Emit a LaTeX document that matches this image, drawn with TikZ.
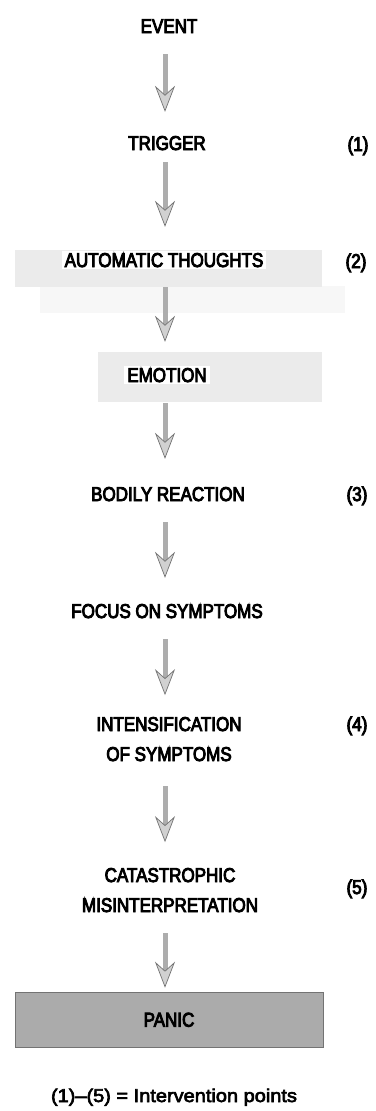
\documentclass[tikz,border=0pt]{standalone}
\usepackage{fontspec}
\setmainfont[FakeStretch=0.85,FakeBold=4.5]{Liberation Sans}
\newfontfamily\footfont[FakeStretch=1.08,FakeBold=3.5]{Liberation Sans}
\usetikzlibrary{arrows.meta,calc}
\begin{document}
\begin{tikzpicture}[x=1pt,y=-1pt,
  lbl/.style={font=\fontsize{20pt}{30pt}\selectfont, inner sep=0pt, text height=14.3pt, text depth=0pt, anchor=base},
  lbltwo/.style={font=\fontsize{20pt}{30pt}\selectfont, inner sep=0pt, align=center, anchor=base},
  halo/.style={fill=white, inner xsep=3pt, inner ysep=2pt},
  num/.style={font=\fontsize{20pt}{30pt}\selectfont, inner sep=0pt, anchor=base},
  band/.style={fill=black!8, draw=none},
  faint/.style={fill=black!3, draw=none},
  panicbox/.style={font=\fontsize{20pt}{30pt}\selectfont, fill=black!33, draw=black!55, line width=0.6pt,
     minimum width=308pt, minimum height=55pt, inner sep=0pt, text height=14.3pt, text depth=0pt},
  flow/.style={line width=5pt, draw=black!32,
     -{Stealth[length=26pt,width=20pt,inset=9pt,line width=0.7pt,color=black!55,fill=black!18]}}
]
\useasboundingbox (0,0) rectangle (375,1111);
\fill[white] (0,0) rectangle (375,1111);
\coordinate (ax) at (165,0);

% stippled bands
\fill[faint] (40,286) rectangle (345,313);
\fill[band] (15,250) rectangle (322,287);
\fill[band] (98,352) rectangle (322,402);

% nodes
\node[lbl] (ev) at (169,33) {EVENT};
\node[lbl] (tr) at (167,150) {TRIGGER};
\node[lbl,halo] (au) at (164,267) {AUTOMATIC THOUGHTS};
\node[lbl,halo] (em) at (167,382) {EMOTION};
\node[lbl] (bo) at (168,501) {BODILY REACTION};
\node[lbl] (fo) at (167,618) {FOCUS ON SYMPTOMS};
\node[lbltwo] (in) at (169,761) {INTENSIFICATION\\OF SYMPTOMS};
\node[lbltwo] (ca) at (170,912) {CATASTROPHIC\\MISINTERPRETATION};
\node[panicbox] (pa) at (169,1019.5) {PANIC};

\node[num] (n1) at (358,151) {(1)};
\node[num] (n2) at (356,268) {(2)};
\node[num] (n3) at (357,501) {(3)};
\node[num] (n4) at (357,731) {(4)};
\node[num] (n5) at (357,894) {(5)};

\node[anchor=base, inner sep=0pt, font=\footfont\fontsize{18.5pt}{24pt}\selectfont] (ft) at (174,1102) {(1)–(5) = Intervention points};

% connectors
\draw[flow] ($(ev.south -| ax)+(0,21)$) -- ($(tr.north -| ax)+(0,-23.7)$);
\draw[flow] ($(tr.south -| ax)+(0,12)$) -- ($(au.north -| ax)+(0,-23.7)$);
\draw[flow] ($(au.south -| ax)+(0,18)$) -- ($(em.north -| ax)+(0,-23.7)$);
\draw[flow] ($(em.south -| ax)+(0,19)$) -- ($(bo.north -| ax)+(0,-27.7)$);
\draw[flow] ($(bo.south -| ax)+(0,21)$) -- ($(fo.north -| ax)+(0,-25.7)$);
\draw[flow] ($(fo.south -| ax)+(0,21)$) -- ($(in.north -| ax)+(0,-21.7)$);
\draw[flow] ($(in.south -| ax)+(0,25)$) -- ($(ca.north -| ax)+(0,-25.7)$);
\draw[flow] ($(ca.south -| ax)+(0,21)$) -- ($(pa.north -| ax)+(0,-4)$);
\end{tikzpicture}
\end{document}
